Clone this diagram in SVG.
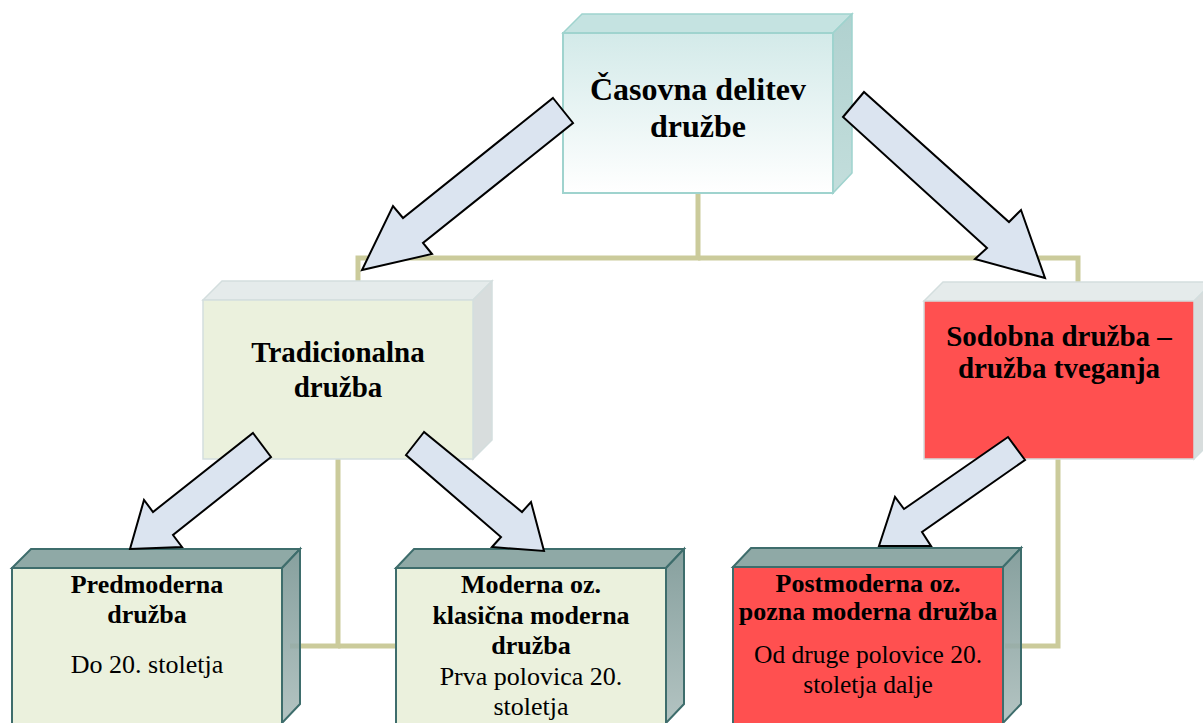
<svg xmlns="http://www.w3.org/2000/svg" width="1203" height="723" viewBox="0 0 1203 723">
<defs>
<linearGradient id="gTop" x1="0" y1="0" x2="0" y2="1"><stop offset="0" stop-color="#d3eae9"/><stop offset="1" stop-color="#ffffff"/></linearGradient>
<linearGradient id="gTopSide" x1="0" y1="0" x2="0" y2="1"><stop offset="0" stop-color="#b0d1cf"/><stop offset="1" stop-color="#c3dedc"/></linearGradient>
<linearGradient id="gDarkSide" x1="0" y1="0" x2="0" y2="1"><stop offset="0" stop-color="#7a9694"/><stop offset="1" stop-color="#abbdbb"/></linearGradient>
<style>
.conn{fill:none;stroke:#cbcb9b;stroke-width:5}
.arrow{fill:#dbe4f0;stroke:#000;stroke-width:2;stroke-linejoin:miter}
.t{font-family:"Liberation Serif","Times New Roman",serif;text-anchor:middle;fill:#000}
.b{font-weight:bold}
.lite{stroke:#d3dede;stroke-width:1.5}
.dark{stroke:#3e6d6c;stroke-width:2}
</style>
</defs>
<g id="connectors">
<polyline class="conn" points="698,193 698,258 358,258 358,282"/>
<polyline class="conn" points="698,258 1078,258 1078,282"/>
<polyline class="conn" points="338,459 338,646 290,646"/>
<polyline class="conn" points="338,646 396,646"/>
<polyline class="conn" points="1058,458 1058,646 1005,646"/>
</g>
<g id="node-top">
<polygon points="563,33 582,14 852,14 833,33" fill="#c5e3e1" stroke="#9fd3ce" stroke-width="1.5"/>
<polygon points="833,33 852,14 852,173 833,193" fill="url(#gTopSide)" stroke="#9fd3ce" stroke-width="1.5"/>
<rect x="563" y="33" width="270" height="160" fill="url(#gTop)" stroke="#9fd3ce" stroke-width="2"/>
<text class="t b" x="698" y="100" font-size="32">Časovna delitev</text>
<text class="t b" x="698" y="137" font-size="32">družbe</text>
</g>
<g id="node-tradicionalna">
<polygon class="lite" points="203,300 222,281 492,281 473,300" fill="#e5ebeb"/>
<polygon class="lite" points="473,300 492,281 492,440 473,459" fill="#d8dddd"/>
<rect class="lite" x="203" y="300" width="270" height="159" fill="#ebf1dd"/>
<text class="t b" x="338" y="362" font-size="29">Tradicionalna</text>
<text class="t b" x="338" y="397" font-size="29">družba</text>
</g>
<g id="node-sodobna">
<polygon class="lite" points="924,301 943,282 1213,282 1194,301" fill="#e5ebeb"/>
<polygon class="lite" points="1194,301 1213,282 1213,440 1194,459" fill="#d8dddd"/>
<rect class="lite" x="924" y="301" width="270" height="158" fill="#ff5050"/>
<text class="t b" x="1059" y="346" font-size="29">Sodobna družba –</text>
<text class="t b" x="1059" y="378" font-size="29">družba tveganja</text>
</g>
<g id="node-predmoderna">
<polygon class="dark" points="12,568 31,549 300,549 282,568" fill="#8fa9a6"/>
<polygon class="dark" points="282,568 300,549 300,704 282,723" fill="url(#gDarkSide)" fill-opacity="0.9"/>
<rect class="dark" x="12" y="568" width="270" height="156" fill="#ebf1dd"/>
<text class="t b" x="147" y="593" font-size="26">Predmoderna</text>
<text class="t b" x="147" y="623" font-size="26">družba</text>
<text class="t" x="147" y="673" font-size="26">Do 20. stoletja</text>
</g>
<g id="node-moderna">
<polygon class="dark" points="396,568 414,549 684,549 666,568" fill="#8fa9a6"/>
<polygon class="dark" points="666,568 684,549 684,704 666,723" fill="url(#gDarkSide)" fill-opacity="0.9"/>
<rect class="dark" x="396" y="568" width="270" height="156" fill="#ebf1dd"/>
<text class="t b" x="531" y="593" font-size="26">Moderna oz.</text>
<text class="t b" x="531" y="624" font-size="26">klasična moderna</text>
<text class="t b" x="531" y="654" font-size="26">družba</text>
<text class="t" x="531" y="685" font-size="26">Prva polovica 20.</text>
<text class="t" x="531" y="715" font-size="26">stoletja</text>
</g>
<g id="node-postmoderna">
<polygon class="dark" points="733,567 751,548 1021,548 1003,567" fill="#8fa9a6"/>
<polygon class="dark" points="1003,567 1021,548 1021,704 1003,723" fill="url(#gDarkSide)" fill-opacity="0.9"/>
<rect class="dark" x="733" y="567" width="270" height="157" fill="#ff5050"/>
<text class="t b" x="868" y="592" font-size="26">Postmoderna oz.</text>
<text class="t b" x="868" y="620" font-size="26">pozna moderna družba</text>
<text class="t" x="868" y="663" font-size="25.5">Od druge polovice 20.</text>
<text class="t" x="868" y="693" font-size="25.5">stoletja dalje</text>
</g>
<g id="arrows">
<polygon class="arrow" points="553,98 573,123 423,243 432,254 362,270 393,206 403,218"/>
<polygon class="arrow" points="864,92 843,117 987,248 975,259 1045,278 1021,210 1009,222"/>
<polygon class="arrow" points="253,433 271,457 173,535 182,547 130,549 144,500 153,512"/>
<polygon class="arrow" points="424,432 406,455 501,537 492,547 544,551 531,502 522,512"/>
<polygon class="arrow" points="1008,437 1025,460 922,532 931,546 879,546 895,497 904,509"/>
</g>
</svg>
